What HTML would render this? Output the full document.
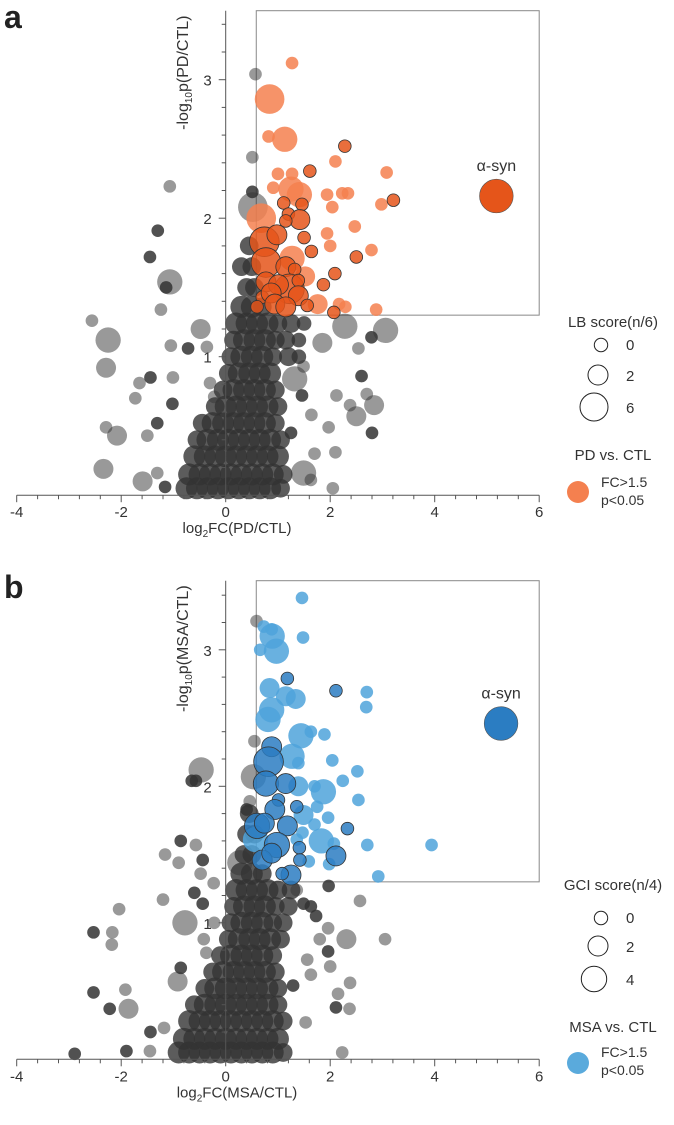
<!DOCTYPE html>
<html><head><meta charset="utf-8"><style>
body{margin:0;background:#fff}
svg{display:block;font-family:"Liberation Sans",Arial,sans-serif}
</style></head><body>
<svg id="chart" width="674" height="1125" viewBox="0 0 674 1125">
<text x="4" y="28" font-size="32" font-weight="bold" fill="#222">a</text>
<text x="4" y="598" font-size="32" font-weight="bold" fill="#222">b</text>
<g id="pa"></g>
<g id="pb"></g>
<g font-size="15" fill="#333">
<text x="613" y="327" text-anchor="middle">LB score(n/6)</text>
<circle cx="601" cy="345" r="6.7" fill="none" stroke="#222"/>
<text x="626" y="350">0</text>
<circle cx="598" cy="375" r="10" fill="none" stroke="#222"/>
<text x="626" y="381">2</text>
<circle cx="594" cy="407" r="14" fill="none" stroke="#222"/>
<text x="626" y="413">6</text>
<text x="613" y="460" text-anchor="middle">PD vs. CTL</text>
<circle cx="578" cy="492" r="11" fill="#f4804f"/>
<text x="601" y="487" font-size="14">FC&gt;1.5</text>
<text x="601" y="505" font-size="14">p&lt;0.05</text>
</g>
<g font-size="15" fill="#333">
<text x="613" y="890" text-anchor="middle">GCI score(n/4)</text>
<circle cx="601" cy="918" r="6.7" fill="none" stroke="#222"/>
<text x="626" y="923">0</text>
<circle cx="598" cy="946" r="10" fill="none" stroke="#222"/>
<text x="626" y="952">2</text>
<circle cx="594" cy="979" r="12.7" fill="none" stroke="#222"/>
<text x="626" y="985">4</text>
<text x="613" y="1032" text-anchor="middle">MSA vs. CTL</text>
<circle cx="578" cy="1063" r="11" fill="#5aaadc"/>
<text x="601" y="1057" font-size="14">FC&gt;1.5</text>
<text x="601" y="1075" font-size="14">p&lt;0.05</text>
</g>
</svg>
<script>
// ---- data: [log2FC, -log10p, score, dark(1)/light(0)] ----
const xTicks = [-4, -2, 0, 2, 4, 6];
const yTicks = [1, 2, 3];
const cloudA = [
[-0.75,0.05,2],[-0.55,0.05,2],[-0.35,0.05,2],[-0.15,0.05,2],[0.05,0.05,2],[0.25,0.05,2],[0.45,0.05,2],[0.65,0.05,2],[0.85,0.05,2],[1.05,0.05,1],
[-0.7,0.15,2],[-0.5,0.15,2],[-0.3,0.15,2],[-0.1,0.15,2],[0.1,0.15,2],[0.3,0.15,2],[0.5,0.15,2],[0.7,0.15,2],[0.9,0.15,2],[1.1,0.15,1],
[-0.6,0.28,2],[-0.4,0.28,2],[-0.2,0.28,2],[0,0.28,2],[0.2,0.28,2],[0.4,0.28,2],[0.6,0.28,2],[0.8,0.28,2],[1.0,0.28,2],
[-0.55,0.4,1],[-0.35,0.4,2],[-0.15,0.4,2],[0.05,0.4,2],[0.25,0.4,2],[0.45,0.4,2],[0.65,0.4,2],[0.85,0.4,2],[1.05,0.4,1],
[-0.45,0.52,1],[-0.25,0.52,2],[-0.05,0.52,2],[0.15,0.52,2],[0.35,0.52,2],[0.55,0.52,2],[0.75,0.52,2],[0.95,0.52,1],
[-0.2,0.64,1],[0,0.64,2],[0.2,0.64,2],[0.4,0.64,2],[0.6,0.64,2],[0.8,0.64,2],[1.0,0.64,1],
[-0.05,0.76,1],[0.15,0.76,2],[0.35,0.76,2],[0.55,0.76,2],[0.75,0.76,2],[0.95,0.76,1],
[0.05,0.88,1],[0.25,0.88,2],[0.45,0.88,2],[0.65,0.88,2],[0.85,0.88,2],
[0.1,1.0,1],[0.3,1.0,2],[0.5,1.0,2],[0.7,1.0,2],[0.9,1.0,1],[1.2,1.0,1],[1.4,1.0,0],
[0.15,1.12,1],[0.35,1.12,2],[0.55,1.12,2],[0.75,1.12,2],[0.95,1.12,1],[1.15,1.12,1],[1.4,1.12,0],
[0.2,1.24,2],[0.4,1.24,2],[0.6,1.24,2],[0.8,1.24,2],[1.0,1.24,1],[1.25,1.24,1],[1.5,1.24,0],
[0.3,1.36,2],[0.5,1.36,2],[0.7,1.36,1],[0.4,1.5,1],[0.55,1.5,1],[0.3,1.65,1],[0.5,1.65,1],[0.45,1.8,1]
];
const greyA = [
[0.57,3.04,0,0],[0.51,2.44,0,0],[0.51,2.19,0,1],[0.52,2.08,6,0],[-1.07,2.23,0,0],[-1.30,1.91,0,1],[-1.45,1.72,0,1],[-1.07,1.54,4,0],[-1.14,1.5,0,1],
[-1.24,1.34,0,0],[-2.56,1.26,0,0],[-2.25,1.12,4,0],[-0.48,1.2,2,0],[-0.72,1.06,0,1],[-0.36,1.07,0,0],[-1.05,1.08,0,0],[-2.29,0.92,2,0],[-1.44,0.85,0,1],
[-1.65,0.81,0,0],[-1.73,0.70,0,0],[-1.01,0.85,0,0],[-1.02,0.66,0,1],[-2.29,0.49,0,0],[-2.08,0.43,2,0],[-1.31,0.52,0,1],[-1.5,0.43,0,0],[-2.34,0.19,2,0],
[-1.59,0.10,2,0],[-1.16,0.06,0,1],[-1.31,0.16,0,0],[3.06,1.19,4,0],[2.28,1.22,4,0],[2.79,1.14,0,1],[2.54,1.06,0,0],[1.85,1.10,2,0],[2.6,0.86,0,1],
[2.7,0.73,0,0],[2.84,0.65,2,0],[2.5,0.57,2,0],[2.38,0.65,0,0],[2.12,0.72,0,0],[2.8,0.45,0,1],[1.97,0.49,0,0],[2.1,0.31,0,0],[2.05,0.05,0,0],
[1.32,0.84,4,0],[1.49,0.93,0,0],[1.46,0.72,0,1],[1.64,0.58,0,0],[1.49,0.16,4,0],[1.70,0.30,0,0],[1.25,0.45,0,1],[1.63,0.11,0,0],[-0.3,0.81,0,0],[-0.22,0.71,0,0]
];
const sigA = [
[1.27,3.12,0,0],[0.84,2.86,6,0],[0.82,2.59,0,0],[1.13,2.57,4,0],[2.28,2.52,0,1],[2.10,2.41,0,0],[1.61,2.34,0,1],[3.08,2.33,0,0],[1.0,2.32,0,0],[1.27,2.32,0,0],
[0.91,2.22,0,0],[1.25,2.21,4,0],[1.41,2.17,4,0],[1.94,2.17,0,0],[2.23,2.18,0,0],[2.34,2.18,0,0],[3.21,2.13,0,1],[2.98,2.10,0,0],[2.04,2.08,0,0],[1.11,2.11,0,1],
[1.46,2.1,0,1],[0.68,2.0,6,0],[1.2,2.03,0,1],[1.42,1.99,2,1],[1.15,1.98,0,1],[2.47,1.94,0,0],[1.94,1.89,0,0],[1.5,1.86,0,1],[0.74,1.83,6,1],[0.98,1.88,2,1],
[2.0,1.80,0,0],[2.79,1.77,0,0],[1.64,1.76,0,1],[2.5,1.72,0,1],[1.27,1.71,4,0],[0.77,1.68,6,1],[1.15,1.65,2,1],[1.32,1.63,0,1],[2.09,1.6,0,1],[1.52,1.58,2,0],
[0.77,1.54,2,1],[1.22,1.49,6,1],[1.87,1.52,0,1],[1.01,1.52,2,1],[1.39,1.55,0,1],[0.70,1.43,0,1],[0.87,1.46,2,1],[1.39,1.44,2,1],[1.76,1.38,2,0],[2.17,1.38,0,0],
[2.29,1.36,0,0],[0.60,1.36,0,1],[0.94,1.38,2,1],[2.07,1.32,0,1],[2.88,1.34,0,0],[1.15,1.36,2,1],[1.56,1.37,0,1]
];
const synA = [5.18, 2.16, 6];
const cloudB = [
[-0.9,0.05,2],[-0.7,0.05,2],[-0.5,0.05,2],[-0.3,0.05,2],[-0.1,0.05,2],[0.1,0.05,2],[0.3,0.05,2],[0.5,0.05,2],[0.7,0.05,2],[0.9,0.05,2],[1.1,0.05,1],
[-0.8,0.15,2],[-0.6,0.15,2],[-0.4,0.15,2],[-0.2,0.15,2],[0,0.15,2],[0.2,0.15,2],[0.4,0.15,2],[0.6,0.15,2],[0.8,0.15,2],[1.0,0.15,2],
[-0.7,0.28,2],[-0.5,0.28,2],[-0.3,0.28,2],[-0.1,0.28,2],[0.1,0.28,2],[0.3,0.28,2],[0.5,0.28,2],[0.7,0.28,2],[0.9,0.28,2],[1.1,0.28,1],
[-0.6,0.4,1],[-0.4,0.4,2],[-0.2,0.4,2],[0,0.4,2],[0.2,0.4,2],[0.4,0.4,2],[0.6,0.4,2],[0.8,0.4,2],[1.0,0.4,1],
[-0.4,0.52,1],[-0.2,0.52,2],[0,0.52,2],[0.2,0.52,2],[0.4,0.52,2],[0.6,0.52,2],[0.8,0.52,2],[1.0,0.52,1],
[-0.25,0.64,1],[-0.05,0.64,2],[0.15,0.64,2],[0.35,0.64,2],[0.55,0.64,2],[0.75,0.64,2],[0.95,0.64,1],
[-0.1,0.76,1],[0.1,0.76,2],[0.3,0.76,2],[0.5,0.76,2],[0.7,0.76,2],[0.9,0.76,1],
[0.05,0.88,1],[0.25,0.88,2],[0.45,0.88,2],[0.65,0.88,2],[0.85,0.88,2],[1.05,0.88,1],
[0.1,1.0,1],[0.3,1.0,2],[0.5,1.0,2],[0.7,1.0,2],[0.9,1.0,1],[1.1,1.0,1],
[0.15,1.12,1],[0.35,1.12,2],[0.55,1.12,2],[0.75,1.12,2],[0.95,1.12,1],[1.2,1.12,1],
[0.2,1.24,2],[0.4,1.24,2],[0.6,1.24,2],[0.8,1.24,2],[1.0,1.24,1],[1.25,1.24,1],
[0.3,1.36,2],[0.5,1.36,2],[0.7,1.36,1],[0.35,1.5,1],[0.5,1.5,1],[0.4,1.65,1],[0.55,1.65,1],[0.45,1.8,1]
];
const greyB = [
[0.59,3.21,0,0],[0.55,2.33,0,0],[0.53,2.07,4,0],[0.27,1.44,4,0],[-0.47,2.12,4,0],[-0.65,2.04,0,1],[-0.57,2.04,0,1],[-0.86,1.60,0,1],[-0.57,1.57,0,0],
[-1.16,1.50,0,0],[-0.9,1.44,0,0],[-0.44,1.46,0,1],[-0.48,1.36,0,0],[-0.23,1.29,0,0],[-0.6,1.22,0,1],[-0.44,1.14,0,1],[-1.2,1.17,0,0],[-2.04,1.10,0,0],
[-0.78,1.0,4,0],[-0.22,1.0,0,0],[-2.53,0.93,0,1],[-2.17,0.93,0,0],[-2.18,0.84,0,0],[-0.42,0.88,0,0],[-0.37,0.78,0,0],[-0.86,0.67,0,1],[-0.92,0.57,2,0],
[-2.53,0.49,0,1],[-1.92,0.51,0,0],[-2.22,0.37,0,1],[-1.86,0.37,2,0],[-1.44,0.20,0,1],[-1.18,0.23,0,0],[-2.89,0.04,0,1],[-1.9,0.06,0,1],[-1.45,0.06,0,0],
[2.57,1.16,0,0],[1.97,1.27,0,1],[2.31,0.88,2,0],[3.05,0.88,0,0],[1.96,0.79,0,1],[1.96,0.96,0,0],[1.8,0.88,0,0],[1.56,0.73,0,0],[2.0,0.68,0,0],[1.63,0.62,0,0],
[2.38,0.56,0,0],[2.15,0.48,0,0],[2.11,0.38,0,1],[2.37,0.37,0,0],[1.29,0.54,0,1],[1.53,0.27,0,0],[2.23,0.05,0,0],[1.63,1.12,0,1],[1.49,1.14,0,1],[1.73,1.05,0,1],
[1.36,1.24,0,0],[0.4,1.83,0,1],[0.46,1.89,0,0]
];
const sigB = [
[1.46,3.38,0,0],[0.73,3.17,0,0],[0.88,3.15,0,0],[0.89,3.10,4,0],[1.48,3.09,0,0],[0.66,3.0,0,0],[0.97,2.99,4,0],[1.18,2.79,0,1],[2.11,2.70,0,1],[2.70,2.69,0,0],
[0.84,2.72,2,0],[1.15,2.66,2,0],[1.34,2.64,2,0],[2.69,2.58,0,0],[0.88,2.56,4,0],[0.81,2.49,4,0],[1.44,2.37,4,0],[1.63,2.40,0,0],[1.89,2.38,0,0],[0.88,2.29,2,1],
[1.27,2.22,4,0],[0.82,2.18,6,1],[1.39,2.17,0,0],[2.04,2.19,0,0],[2.52,2.11,0,0],[2.24,2.04,0,0],[0.77,2.02,4,1],[1.15,2.02,2,1],[1.39,2.0,2,0],[1.01,1.90,0,1],
[1.87,1.96,4,0],[1.7,2.0,0,0],[2.54,1.90,0,0],[0.94,1.83,2,1],[1.36,1.85,0,1],[1.75,1.85,0,0],[1.96,1.77,0,0],[1.49,1.79,2,0],[0.6,1.71,4,1],[0.74,1.73,2,1],
[1.18,1.71,2,1],[1.7,1.72,0,0],[2.33,1.69,0,1],[1.47,1.66,0,0],[0.57,1.61,4,0],[0.98,1.57,4,1],[1.36,1.61,0,0],[1.83,1.60,4,0],[2.07,1.58,0,0],[2.71,1.57,0,0],
[3.94,1.57,0,0],[0.7,1.46,2,1],[0.88,1.51,2,1],[1.41,1.55,0,1],[1.42,1.46,0,1],[1.59,1.45,0,0],[2.11,1.49,2,1],[1.98,1.43,0,0],[2.92,1.34,0,0],[1.25,1.35,2,1],[1.08,1.36,0,1]
];
const synB = [5.27, 2.46, 6];

const NS = "http://www.w3.org/2000/svg";
function mk(tag, attrs, parent){ const e=document.createElementNS(NS,tag); for(const k in attrs) e.setAttribute(k,attrs[k]); parent.appendChild(e); return e; }
const sx = v => 225.7 + v*52.25;
const radius = s => Math.sqrt(40 + s*30);

function panel(g, y0, uy, top, yTitle, xTitle, cloud, grey, sig, syn, light, dark){
  const sy = v => y0 - v*uy;
  const box = mk('rect',{x:sx(0.585),y:top,width:sx(6)-sx(0.585),height:sy(1.3)-top,fill:'none',stroke:'#888','stroke-width':1},g);
  
  
  cloud.forEach(p=>{
    const c=mk('circle',{cx:sx(p[0]),cy:sy(p[1]),r:radius(p[2])+1,fill:'#333','fill-opacity':0.8},g);
    
    
  });
  grey.forEach(p=>{
    const c=mk('circle',{cx:sx(p[0]),cy:sy(p[1]),r:radius(p[2]),fill:'#333','fill-opacity':p[3]?0.85:0.5},g);
    
    
  });
  sig.filter(p=>!p[3]).forEach(p=>{
    const c=mk('circle',{cx:sx(p[0]),cy:sy(p[1]),r:radius(p[2]),fill:light,'fill-opacity':0.85},g);
    
    
  });
  sig.filter(p=>p[3]).forEach(p=>{
    const c=mk('circle',{cx:sx(p[0]),cy:sy(p[1]),r:radius(p[2]),fill:dark,'fill-opacity':0.85,stroke:'#333','stroke-width':0.8},g);
    
    
  });
  const a=mk('circle',{cx:sx(syn[0]),cy:sy(syn[1]),r:radius(syn[2])+2,fill:dark,stroke:'#555','stroke-width':0.6},g);
  
  
  const at=mk('text',{x:sx(syn[0]),y:sy(syn[1])-radius(syn[2])-10,'text-anchor':'middle','font-size':16,fill:'#333'},g);
  at.textContent='α-syn';
  
  
  const xa=mk('line',{x1:sx(-4),x2:sx(6),y1:y0,y2:y0,stroke:'#555','stroke-width':1},g);
  
  
  const ya=mk('line',{x1:sx(0),x2:sx(0),y1:top,y2:y0,stroke:'#555','stroke-width':1},g);
  
  
  for(let i=0;i<=25;i++){ const v=-4+i*0.4; const maj=(i%5===0);
    const t=mk('line',{x1:sx(v),x2:sx(v),y1:y0,y2:y0+(maj?7:4),stroke:'#555'},g);
    
    
  }
  for(let i=1;i<=17;i++){ const v=i*0.2; if(sy(v)<top) break; const maj=(i%5===0);
    const t=mk('line',{x1:sx(0),x2:sx(0)-(maj?7:4),y1:sy(v),y2:sy(v),stroke:'#555'},g);
    
    
  }
  xTicks.forEach(v=>{
    const t=mk('text',{x:sx(v),y:y0+22,'text-anchor':'middle','font-size':15,fill:'#333'},g);
    t.textContent=String(v);
    
    
  });
  yTicks.forEach(v=>{
    const t=mk('text',{x:sx(0)-14,y:sy(v)+6,'text-anchor':'end','font-size':15,fill:'#333'},g);
    t.textContent=String(v);
    
    
  });
  const xt=mk('text',{x:237,y:y0+38,'text-anchor':'middle','font-size':15,fill:'#333'},g);
  xt.innerHTML='log<tspan font-size="10" dy="4">2</tspan><tspan dy="-4">FC('+xTitle+')</tspan>';
  
  
  const yt=mk('text',{transform:'translate(188,'+(top+(yTitle.length>6?68:62))+') rotate(-90)','text-anchor':'middle','font-size':16,fill:'#333'},g);
  yt.innerHTML='-log<tspan font-size="10" dy="4">10</tspan><tspan dy="-4">p('+yTitle+')</tspan>';
  
  
}
panel(document.getElementById('pa'),495.2,138.5,10.7,'PD/CTL','PD/CTL',cloudA,greyA,sigA,synA,'#f4804f','#e5551a');
panel(document.getElementById('pb'),1059.3,136.5,580.7,'MSA/CTL','MSA/CTL',cloudB,greyB,sigB,synB,'#4fa3da','#2b7dc2');
</script>
</body></html>
